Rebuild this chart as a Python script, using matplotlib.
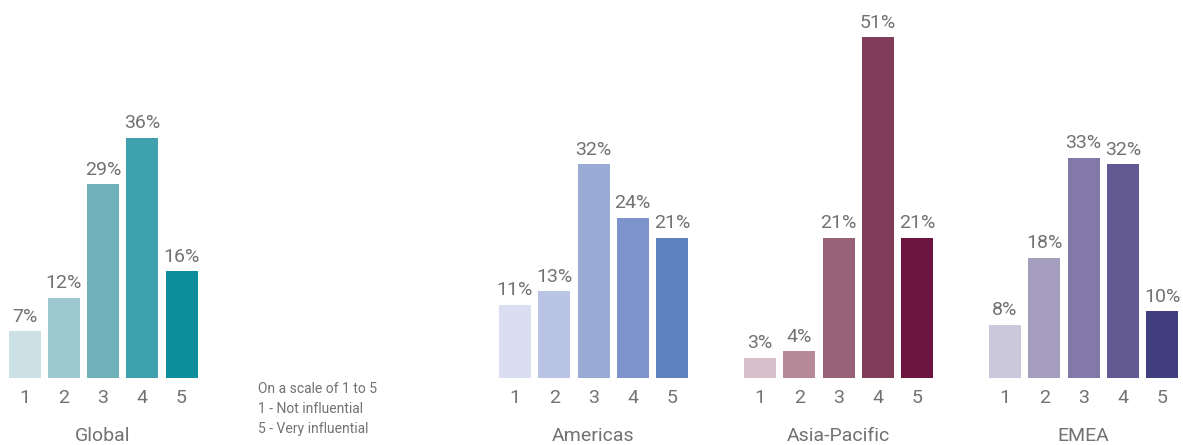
import matplotlib
matplotlib.use("Agg")
import matplotlib.pyplot as plt

plt.rcParams['font.family'] = ['Roboto', 'DejaVu Sans']

scale_labels = ["1", "2", "3", "4", "5"]
regions = ["Global", "Americas", "Asia-Pacific", "EMEA"]
global_vals = [7, 12, 29, 36, 16]
americas_vals = [11, 13, 32, 24, 21]
apac_vals = [3, 4, 21, 51, 21]
emea_vals = [8, 18, 33, 32, 10]

global_colors = ["#cce1e5", "#9dc8d0", "#70b2bc", "#3fa1ad", "#0d8f9b"]
americas_colors = ["#d9dff0", "#bac4e4", "#9aacd6", "#7c94cb", "#5f82c1"]
apac_colors = ["#d7bfc9", "#b68a99", "#986276", "#803c58", "#6b1540"]
emea_colors = ["#cbc8dc", "#a59ebe", "#8279a8", "#635a93", "#413e80"]

legend_lines = ["On a scale of 1 to 5", "1 - Not influential", "5 - Very influential"]

W, H = 1183, 445
fig = plt.figure(figsize=(W / 100, H / 100), dpi=100)
TXT = "#727272"
WT = "normal"

pitch = 39.25
baseline = 378
px_per = 6.68
centers = [103, 593.5, 838.5, 1083.5]
all_vals = [global_vals, americas_vals, apac_vals, emea_vals]
all_cols = [global_colors, americas_colors, apac_colors, emea_colors]

for name, cx, vals, cols in zip(regions, centers, all_vals, all_cols):
    left = cx - 2.5 * pitch
    width = 5 * pitch
    ax = fig.add_axes([left / W, (H - baseline) / H, width / W, baseline / H])
    x = range(len(vals))
    ax.bar(x, vals, width=32 / pitch, color=cols)
    ax.set_xlim(-0.5, 4.5)
    ax.set_ylim(0, baseline / px_per)
    for xi, v in zip(x, vals):
        ax.annotate(f"{v}%", (xi, v), xytext=(0, 4), textcoords="offset points",
                    ha="center", va="bottom", fontsize=14, color=TXT, fontweight=WT)
    ax.set_xticks(list(x))
    ax.set_xticklabels(scale_labels, fontsize=14, color=TXT, fontweight=WT)
    ax.tick_params(axis="x", length=0, pad=8)
    ax.set_yticks([])
    for s in ax.spines.values():
        s.set_visible(False)
    fig.text(cx / W, 1 - 436 / H, name, ha="center", va="center", fontsize=14,
             color=TXT, fontweight=WT)

for i, line in enumerate(legend_lines):
    fig.text(258 / W, 1 - (389 + 20 * i) / H, line, ha="left", va="center",
             fontsize=10, color=TXT, fontweight=WT)

fig.savefig("out.png", dpi=100)
